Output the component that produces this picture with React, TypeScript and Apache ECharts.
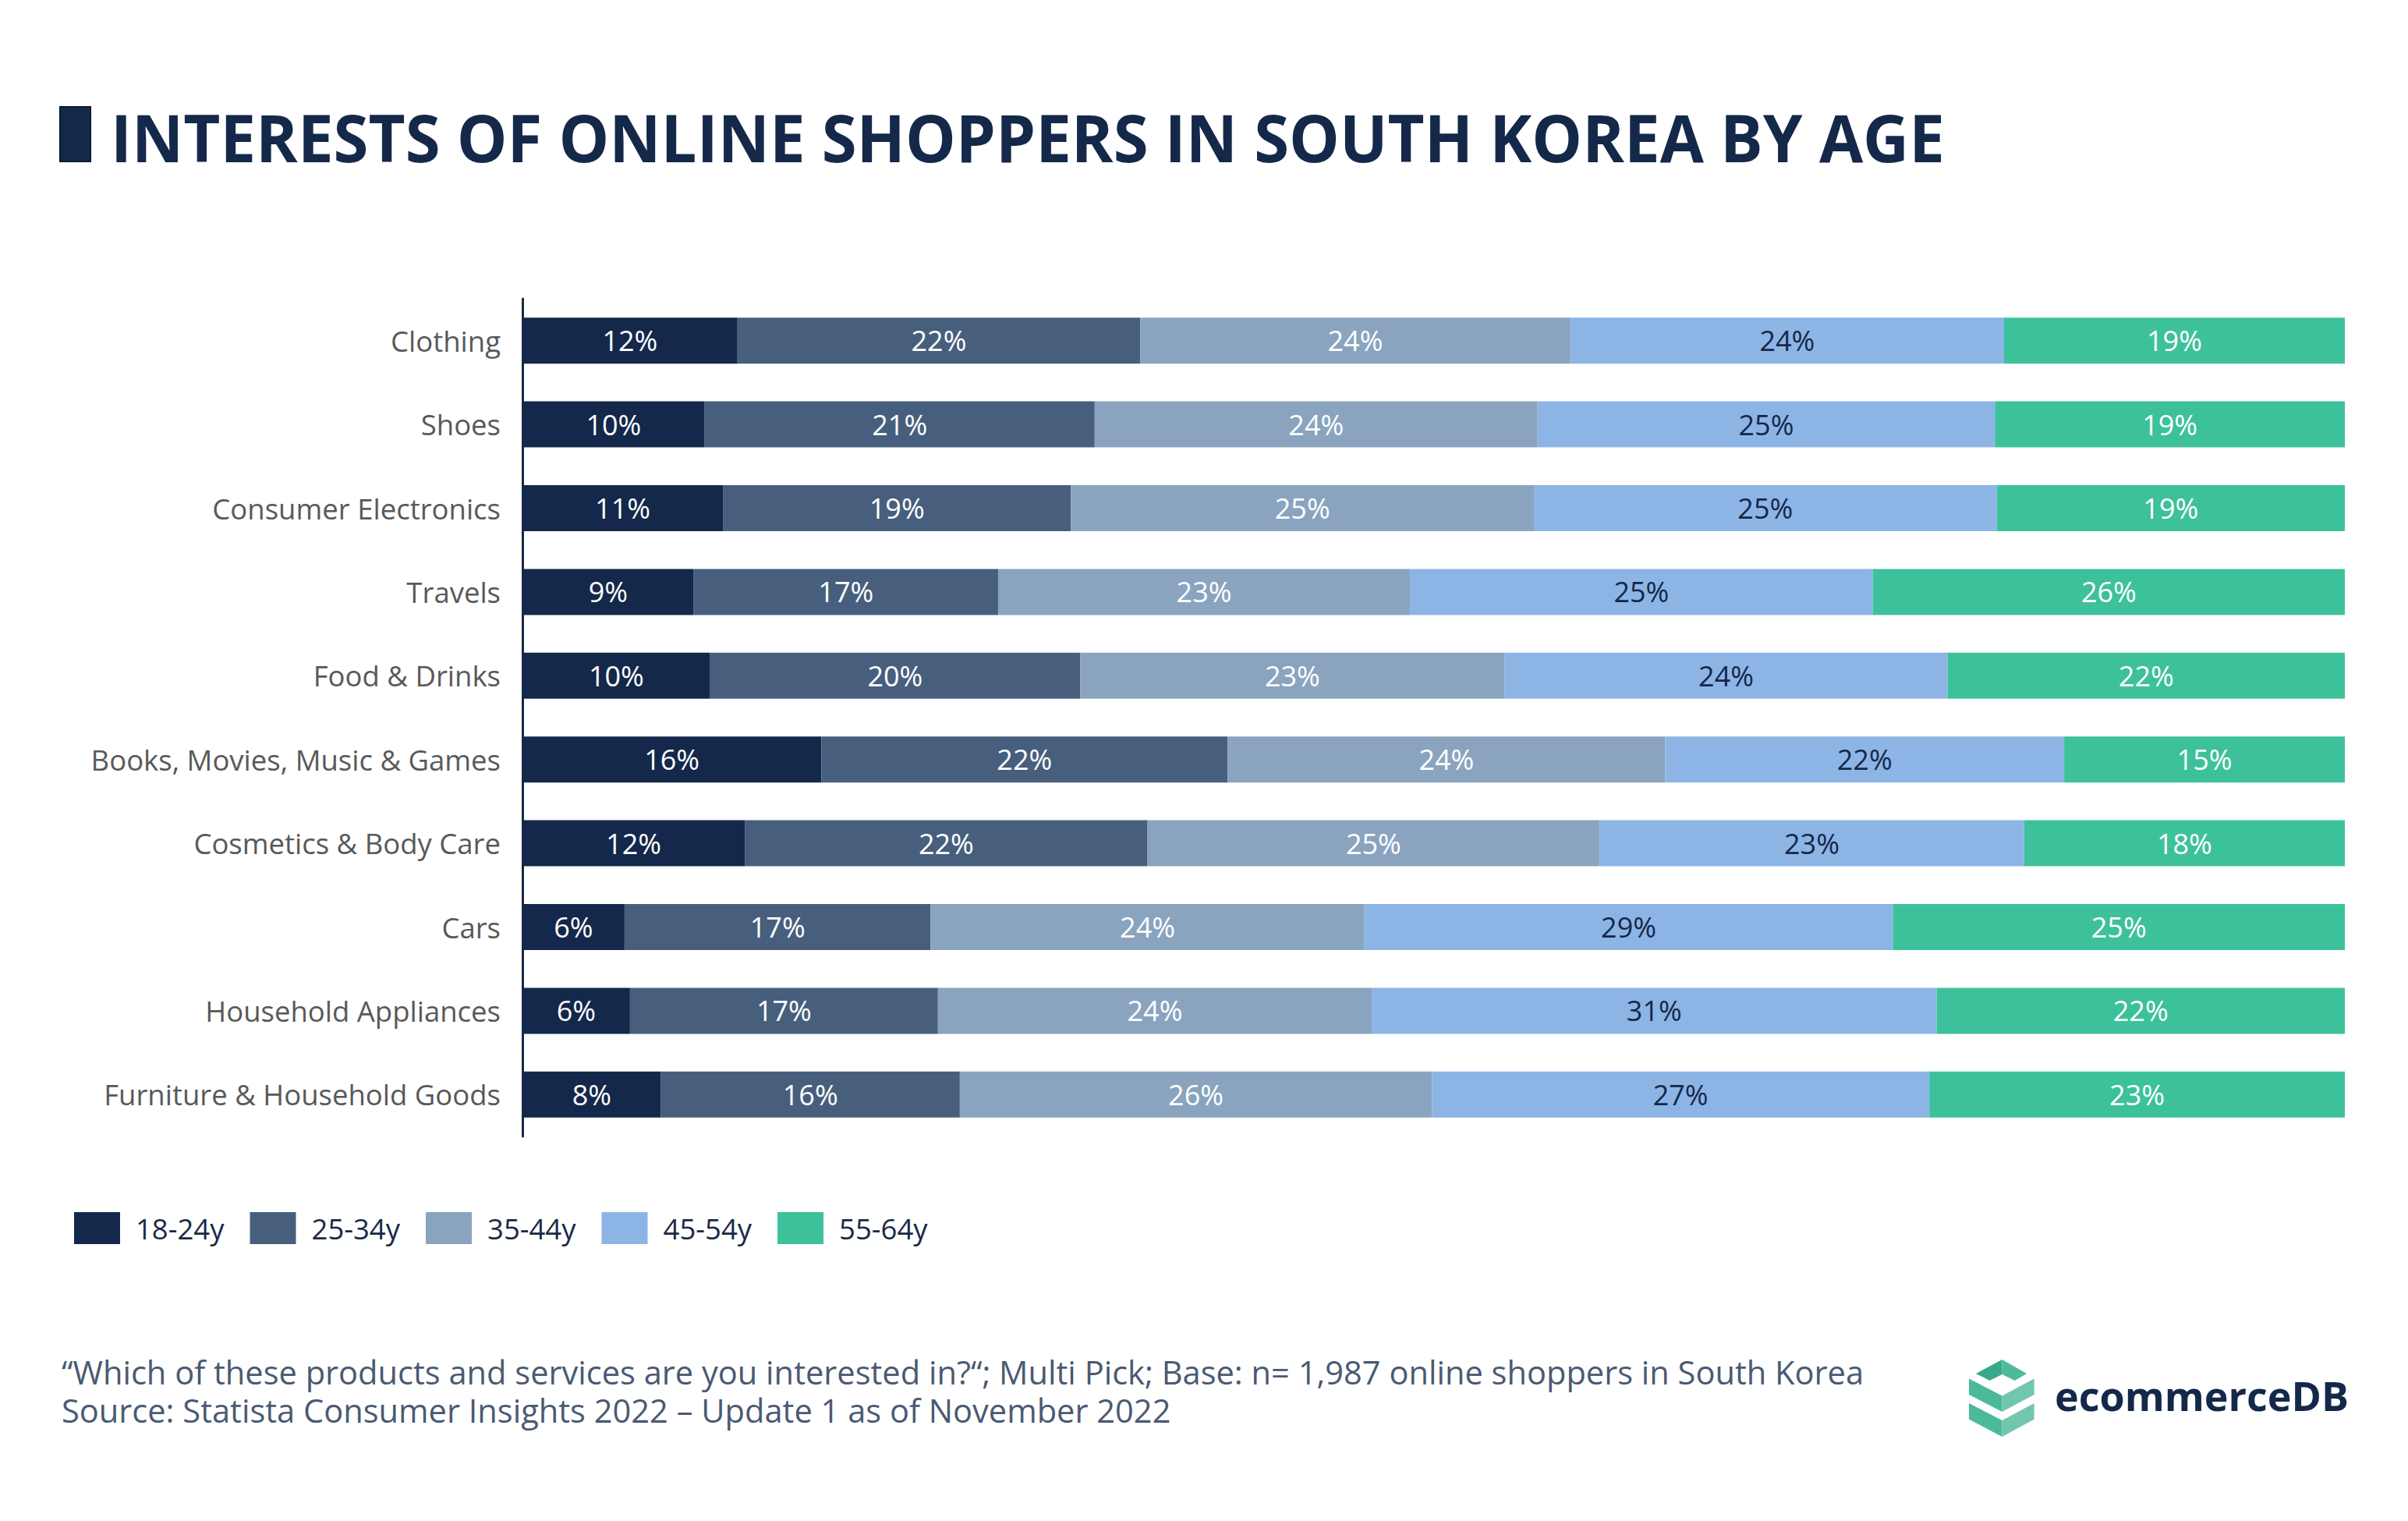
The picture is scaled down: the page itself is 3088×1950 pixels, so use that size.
import React, { useEffect, useRef } from "react";
import * as echarts from "echarts";

const categories = [
  "Clothing",
  "Shoes",
  "Consumer Electronics",
  "Travels",
  "Food & Drinks",
  "Books, Movies, Music & Games",
  "Cosmetics & Body Care",
  "Cars",
  "Household Appliances",
  "Furniture & Household Goods",
];

const ageGroups = ["18-24y", "25-34y", "35-44y", "45-54y", "55-64y"];

const age18to24 = [11.8, 10.0, 11.0, 9.4, 10.3, 16.4, 12.2, 5.6, 5.9, 7.6];
const age25to34 = [22.1, 21.4, 19.1, 16.7, 20.3, 22.3, 22.1, 16.8, 16.9, 16.4];
const age35to44 = [23.6, 24.3, 25.4, 22.6, 23.3, 24.0, 24.8, 23.8, 23.8, 25.9];
const age45to54 = [23.8, 25.1, 25.4, 25.4, 24.3, 21.9, 23.3, 29.0, 31.0, 27.3];
const age55to64 = [18.7, 19.2, 19.1, 25.9, 21.8, 15.4, 17.6, 24.8, 22.4, 22.8];

const seriesValues = [age18to24, age25to34, age35to44, age45to54, age55to64];
const seriesColors = ["#13284a", "#475f7d", "#8aa4bf", "#8cb5e6", "#3dc19b"];
const labelColors = ["#ffffff", "#ffffff", "#ffffff", "#14284a", "#ffffff"];

const titleText = "INTERESTS OF ONLINE SHOPPERS IN SOUTH KOREA BY AGE";
const footerLine1 =
  "\u201CWhich of these products and services are you interested in?\u201C; Multi Pick; Base: n= 1,987 online shoppers in South Korea";
const footerLine2 = "Source: Statista Consumer Insights 2022 \u2013 Update 1 as of November 2022";

function measure(text: string, font: string): number {
  const c = document.createElement("canvas");
  const ctx = c.getContext("2d");
  if (!ctx) return 0;
  ctx.font = font;
  return ctx.measureText(text).width;
}

export default function App() {
  const ref = useRef<HTMLDivElement>(null);

  useEffect(() => {
    document.body.style.margin = "0";
    if (!ref.current) return;
    const chart = echarts.init(ref.current, undefined, { renderer: "svg" });

    const titleSize = 85;
    const titleTargetW = 2351;
    const titleW = measure(titleText, `bold ${titleSize}px "Open Sans"`) || titleTargetW;
    const titleScale = titleTargetW / titleW;

    const series = ageGroups.map((name, i) => ({
      name,
      type: "bar" as const,
      stack: "total",
      barWidth: 59,
      data: seriesValues[i],
      itemStyle: { color: seriesColors[i] },
      label: {
        show: true,
        position: "inside" as const,
        color: labelColors[i],
        fontSize: 36,
        fontFamily: "Open Sans",
        formatter: (p: any) => `${Math.round(p.value)}%`,
      },
    }));

    chart.setOption({
      animation: false,
      backgroundColor: "#ffffff",
      textStyle: { fontFamily: "Open Sans" },
      grid: { left: 670, right: 81, top: 383, height: 1074, containLabel: false },
      xAxis: {
        type: "value",
        min: 0,
        max: 100,
        show: false,
      },
      yAxis: {
        type: "category",
        data: categories,
        inverse: true,
        axisLine: { show: true, lineStyle: { color: "#1a2a45", width: 3 } },
        axisTick: { show: false },
        axisLabel: { fontSize: 36.5, color: "#595959", margin: 28, fontFamily: "Open Sans" },
      },
      legend: {
        left: 90,
        top: 1549,
        itemWidth: 59,
        itemHeight: 41,
        itemGap: 33,
        icon: "rect",
        textStyle: { fontSize: 36.5, color: "#1a2a45", fontFamily: "Open Sans", padding: [0, 0, 0, 15] },
        data: ageGroups,
      },
      series,
      graphic: [
        {
          type: "rect",
          shape: { x: 77, y: 137, width: 39, height: 70 },
          style: { fill: "#14284a", stroke: "#0c1c33", lineWidth: 2 },
        },
        {
          type: "text",
          x: 142,
          y: 175,
          scaleX: titleScale,
          style: {
            text: titleText,
            fontSize: titleSize,
            fontWeight: "bold",
            fontFamily: "Open Sans",
            fill: "#14284a",
            verticalAlign: "middle",
            align: "left",
          },
        },
        {
          type: "text",
          x: 79,
          y: 1734.5,
          style: {
            text: footerLine1 + "\n" + footerLine2,
            fontSize: 41.6,
            lineHeight: 49,
            fontFamily: "Open Sans",
            fill: "#4a5a72",
            verticalAlign: "top",
          },
        },
        {
          type: "group",
          x: 2480,
          y: 1696,
          children: [
            {
              type: "polygon",
              shape: { points: [[54, 65], [87.5, 47], [87.5, 66], [71.4, 74]] },
              style: { fill: "#38aa8b" },
            },
            {
              type: "polygon",
              shape: { points: [[87.5, 47], [119, 65], [103.6, 74], [87.5, 66]] },
              style: { fill: "#4dbb9b" },
            },
            {
              type: "polygon",
              shape: { points: [[45, 71.4], [87.5, 93.6], [87.5, 114], [45, 92]] },
              style: { fill: "#4cba9a" },
            },
            {
              type: "polygon",
              shape: { points: [[87.5, 93.6], [128.6, 71.4], [128.6, 92], [87.5, 114]] },
              style: { fill: "#72c6ae" },
            },
            {
              type: "polygon",
              shape: { points: [[45, 103], [87.5, 125], [87.5, 146], [45, 123.5]] },
              style: { fill: "#4cba9a" },
            },
            {
              type: "polygon",
              shape: { points: [[87.5, 125], [128.6, 103], [128.6, 123.5], [87.5, 146]] },
              style: { fill: "#72c6ae" },
            },
          ],
        },
        {
          type: "text",
          x: 2635,
          y: 1788,
          style: {
            text: "ecommerceDB",
            fontSize: 52,
            fontWeight: "bold",
            fontFamily: "Open Sans",
            fill: "#14284a",
            verticalAlign: "middle",
          },
        },
      ],
    });

    return () => {
      chart.dispose();
    };
  }, []);

  return <div ref={ref} style={{ width: 3088, height: 1950 }} />;
}
